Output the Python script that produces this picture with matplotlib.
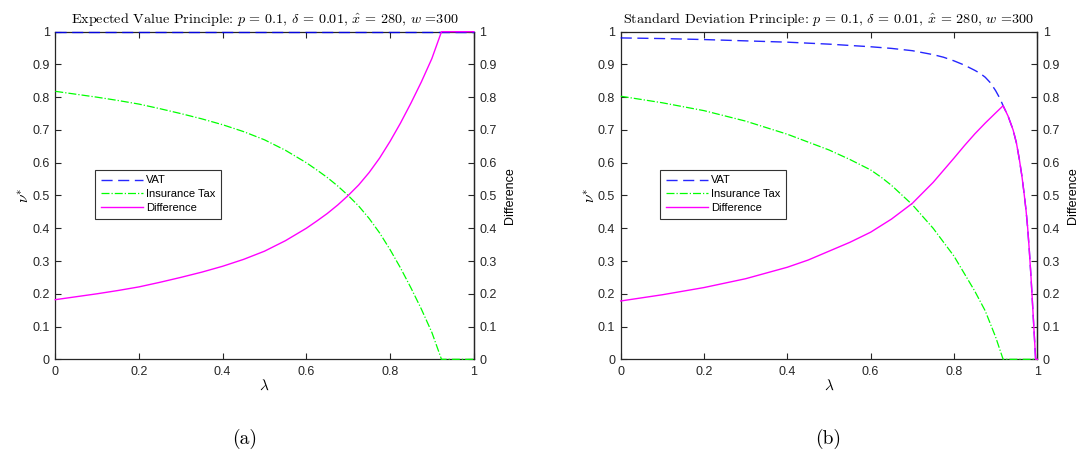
import numpy as np
import matplotlib
matplotlib.use("Agg")
import matplotlib.pyplot as plt

plt.rcParams['font.family'] = ['Liberation Sans', 'DejaVu Sans']
plt.rcParams['mathtext.fontset'] = 'cm'

# (a) Expected value principle
lam_a = [0.0, 0.05, 0.1, 0.15, 0.2, 0.25, 0.3, 0.35, 0.4, 0.45, 0.5, 0.55,
         0.6, 0.625, 0.65, 0.675, 0.7, 0.725, 0.75, 0.775, 0.8, 0.825, 0.85,
         0.875, 0.9, 0.923, 1.0]
vat_a = [1.0] * len(lam_a)
ins_a = [0.818, 0.809, 0.800, 0.790, 0.779, 0.765, 0.750, 0.734, 0.716, 0.695,
         0.670, 0.638, 0.600, 0.578, 0.555, 0.529, 0.500, 0.468, 0.430, 0.386,
         0.335, 0.279, 0.218, 0.153, 0.082, 0.0, 0.0]
diff_a = [0.182, 0.191, 0.200, 0.210, 0.221, 0.235, 0.250, 0.266, 0.284, 0.305,
          0.330, 0.362, 0.400, 0.422, 0.445, 0.471, 0.500, 0.532, 0.570, 0.614,
          0.665, 0.721, 0.782, 0.847, 0.918, 1.0, 1.0]

# (b) Standard deviation principle
lam_b = [0.0, 0.1, 0.2, 0.3, 0.4, 0.5, 0.6, 0.65, 0.7, 0.75, 0.775, 0.8, 0.825,
         0.85, 0.8625, 0.875, 0.8875, 0.9, 0.91, 0.918, 0.93, 0.942, 0.95,
         0.957, 0.963, 0.968, 0.973, 0.977, 0.981, 0.985, 0.989, 0.993, 0.996,
         1.0]
vat_b = [0.981, 0.979, 0.976, 0.972, 0.968, 0.962, 0.954, 0.949, 0.942, 0.930,
         0.922, 0.911, 0.898, 0.882, 0.873, 0.861, 0.844, 0.820, 0.797, 0.774,
         0.742, 0.700, 0.660, 0.610, 0.560, 0.510, 0.455, 0.400, 0.330, 0.250,
         0.160, 0.070, 0.0, 0.0]
lam_b_ins = [0.0, 0.1, 0.2, 0.3, 0.4, 0.5, 0.55, 0.6, 0.625, 0.65, 0.7, 0.75,
             0.8, 0.85, 0.875, 0.9, 0.918, 1.0]
ins_b = [0.803, 0.783, 0.759, 0.727, 0.687, 0.639, 0.610, 0.578, 0.556, 0.531,
         0.472, 0.400, 0.315, 0.208, 0.148, 0.068, 0.0, 0.0]
lam_b_diff = [0.0, 0.1, 0.2, 0.3, 0.4, 0.45, 0.5, 0.55, 0.6, 0.65, 0.7, 0.75,
              0.8, 0.825, 0.85, 0.875, 0.9, 0.918, 0.93, 0.942, 0.95, 0.957,
              0.963, 0.968, 0.973, 0.977, 0.981, 0.985, 0.989, 0.993, 0.996,
              1.0]
diff_b = [0.178, 0.197, 0.219, 0.246, 0.281, 0.303, 0.330, 0.357, 0.388, 0.428,
          0.476, 0.540, 0.614, 0.652, 0.688, 0.721, 0.752, 0.774, 0.742, 0.700,
          0.660, 0.610, 0.560, 0.510, 0.455, 0.400, 0.330, 0.250, 0.160, 0.070,
          0.0, 0.0]

titles = [r'Expected Value Principle: $p$ = 0.1, $\delta$ = 0.01, $\hat{x}$ = 280, $w$ =300',
          r'Standard Deviation Principle: $p$ = 0.1, $\delta$ = 0.01, $\hat{x}$ = 280, $w$ =300']
captions = ['(a)', '(b)']
yticks = np.round(np.arange(0, 1.01, 0.1), 1)
xticks = np.round(np.arange(0, 1.01, 0.2), 1)

fig = plt.figure(figsize=(10.84, 4.54), dpi=100)
ax_a = fig.add_axes([0.051, 0.2086, 0.386, 0.7216])
ax_b = fig.add_axes([0.5726, 0.2086, 0.3843, 0.7216])

panels = [
    (ax_a, lam_a, vat_a, lam_a, ins_a, lam_a, diff_a),
    (ax_b, lam_b, vat_b, lam_b_ins, ins_b, lam_b_diff, diff_b),
]

edge = '#262626'
for i, (ax, lv, vat, li, ins, ld, diff) in enumerate(panels):
    # right-hand axis first, so the curves are drawn above its frame
    twin = ax.twinx()
    twin.set_ylim(0, 1)
    twin.set_yticks(yticks)
    twin.set_yticklabels([f'{v:g}' for v in yticks])
    twin.tick_params(direction='in', length=4, width=0.8, labelsize=9,
                     colors=edge, labelcolor='#262626', pad=4)
    for name, s in twin.spines.items():
        s.set_visible(name == 'right')
        s.set_color(edge)
        s.set_linewidth(0.9)
    twin.set_ylabel('Difference', fontsize=9, labelpad=5)
    ax.set_zorder(twin.get_zorder() + 1)
    ax.patch.set_visible(False)

    ax.plot(lv, vat, color='#0000ff', lw=1.0, dashes=(8, 4), label='VAT',
            zorder=3, clip_on=False, alpha=0.85)
    ax.plot(li, ins, color='#00ff00', lw=0.9, linestyle='-.', label='Insurance Tax',
            zorder=3, clip_on=False)
    ax.plot(ld, diff, color='#ff00ff', lw=1.0, label='Difference',
            zorder=3, clip_on=False)

    ax.set_xlim(0, 1)
    ax.set_ylim(0, 1)
    ax.set_xticks(xticks)
    ax.set_xticklabels([f'{v:g}' for v in xticks])
    ax.set_yticks(yticks)
    ax.set_yticklabels([f'{v:g}' for v in yticks])
    ax.tick_params(direction='in', length=4, width=0.8, labelsize=9,
                   top=True, colors=edge, labelcolor='#262626')
    ax.tick_params(axis='x', pad=5)
    ax.tick_params(axis='y', pad=4)
    for s in ax.spines.values():
        s.set_color(edge)
        s.set_linewidth(0.9)
    ax.set_xlabel(r'$\lambda$', fontsize=11, labelpad=0)
    ax.set_ylabel(r'$\nu^{*}$', fontsize=11, labelpad=0)
    ax.set_title(titles[i], fontsize=10.2, family='cmr10', pad=6)

    leg = ax.legend(loc='upper left', bbox_to_anchor=(0.095, 0.578), fontsize=8,
                    handlelength=3.8, handletextpad=0.3, borderpad=0.5,
                    labelspacing=0.35, fancybox=False, framealpha=1,
                    borderaxespad=0)
    leg.get_frame().set_edgecolor('#333333')
    leg.get_frame().set_linewidth(0.8)
    leg.set_zorder(5)

fig.text(0.226, 0.022, captions[0], fontsize=14, family='cmr10', ha='center')
fig.text(0.764, 0.022, captions[1], fontsize=14, family='cmr10', ha='center')

fig.savefig('out.png', dpi=100)
